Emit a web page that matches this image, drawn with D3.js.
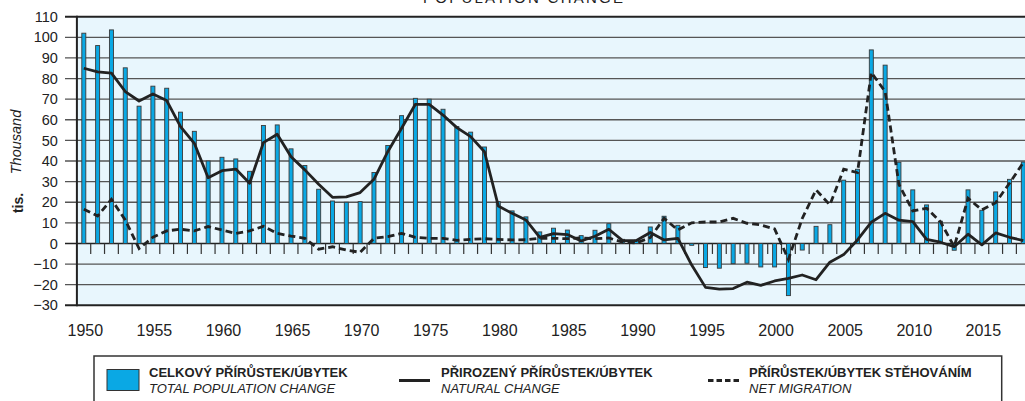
<!DOCTYPE html>
<html>
<head>
<meta charset="utf-8">
<script src="https://cdn.jsdelivr.net/npm/d3@7"></script>
<style>
  html, body { margin: 0; padding: 0; background: #fff; }
  svg { display: block; font-family: "Liberation Sans", Arial, sans-serif; }
</style>
</head>
<body>
<svg id="chart" width="1025" height="401"></svg>
<script>
// ---- data ----
const years = d3.range(1950, 2019);
const totalChange = [
  102.0, 96.0, 103.6, 85.2, 66.6, 76.3, 75.3, 63.7, 54.4, 40.0,
  41.8, 41.0, 35.0, 57.2, 57.5, 45.9, 37.8, 26.3, 20.6, 20.0,
  20.3, 34.4, 47.5, 62.0, 70.4, 70.0, 65.1, 56.7, 54.0, 46.8,
  20.3, 15.8, 12.9, 5.6, 7.4, 6.5, 3.8, 6.4, 9.6, 2.0,
  1.6, 8.0, 13.2, 8.8, -0.9, -11.7, -12.0, -9.8, -9.6, -11.4,
  -11.4, -25.3, -3.2, 8.3, 9.1, 30.7, 36.0, 93.9, 86.5, 39.4,
  26.0, 18.7, 10.8, -3.3, 26.0, 16.1, 25.0, 31.1, 39.5
];
const naturalChange = [
  85.0, 83.2, 82.6, 73.7, 69.1, 72.5, 69.3, 56.7, 48.6, 31.9,
  35.3, 36.1, 29.2, 48.9, 53.0, 42.1, 35.7, 28.7, 22.4, 22.6,
  24.7, 31.1, 44.5, 55.9, 67.5, 67.5, 62.3, 56.2, 51.8, 44.5,
  18.2, 14.6, 11.4, 3.0, 4.8, 4.3, 1.2, 3.5, 6.9, 1.4,
  1.4, 5.3, 1.7, 2.5, -10.5, -21.3, -22.2, -21.9, -18.8, -20.3,
  -18.2, -16.9, -15.3, -17.6, -9.1, -5.4, 1.7, 10.3, 14.6, 11.3,
  10.6, 2.0, 0.6, -1.6, 4.5, -0.7, 5.1, 3.0, 1.4
];
const netMigration = [
  16.6, 13.3, 21.4, 11.4, -2.5, 3.0, 6.1, 6.9, 6.1, 8.2,
  6.5, 4.9, 6.1, 8.3, 4.9, 3.6, 2.5, -2.8, -1.6, -3.2,
  -4.3, 2.5, 3.3, 4.9, 3.0, 2.5, 2.5, 1.5, 2.0, 2.3,
  2.0, 1.7, 1.8, 2.5, 2.5, 2.3, 2.7, 2.3, 2.7, 0.6,
  0.3, 2.8, 12.2, 6.5, 10.0, 10.4, 10.4, 12.2, 9.8, 9.0,
  7.0, -7.7, 12.1, 26.0, 18.7, 36.0, 34.4, 82.9, 73.7, 28.6,
  15.8, 17.1, 10.6, -1.6, 21.9, 16.3, 19.8, 29.2, 39.2
];
const yTicks = d3.range(-30, 111, 10);
const xTickYears = d3.range(1950, 2016, 5);
const titleText = "POPULATION CHANGE";
const legendItems = [
  { kind: "bar",  cz: "CELKOVÝ PŘÍRŮSTEK/ÚBYTEK", en: "TOTAL POPULATION CHANGE" },
  { kind: "line", cz: "PŘIROZENÝ PŘÍRŮSTEK/ÚBYTEK", en: "NATURAL CHANGE" },
  { kind: "dash", cz: "PŘÍRŮSTEK/ÚBYTEK STĚHOVÁNÍM", en: "NET MIGRATION" }
];

// ---- layout ----
const svg = d3.select("#chart");
const plotLeft = 76.9, plotTop = 16.7, plotBottom = 305.3, plotRight = 1030.2;
const x = d3.scaleLinear().domain([1949.5, 2018.5]).range([plotLeft, plotRight]);
const y = d3.scaleLinear().domain([-30, 110]).range([plotBottom, plotTop]);

const barFill = "#0aa8e4";
const lineColor = "#222";

// title (cut off at top)
svg.append("text")
  .attr("x", 523).attr("y", 3)
  .attr("text-anchor", "middle")
  .attr("font-size", 15)
  .attr("fill", "#222")
  .attr("textLength", 200)
  .text(titleText);

// plot background
svg.append("rect")
  .attr("x", plotLeft).attr("y", plotTop)
  .attr("width", 1025 - plotLeft).attr("height", plotBottom - plotTop)
  .attr("fill", "#e8f6fd");

// gridlines
svg.append("g").selectAll("line").data(yTicks).join("line")
  .attr("x1", 65).attr("x2", 1025)
  .attr("y1", d => y(d)).attr("y2", d => y(d))
  .attr("stroke", d => (d === 0 || d === 110 || d === -30) ? "#222" : "#555")
  .attr("stroke-width", d => (d === 110 || d === -30) ? 2 : (d === 0 ? 1.6 : 1.3));

// y axis labels
const yAxis = svg.append("g")
  .attr("transform", `translate(${plotLeft},0)`)
  .call(d3.axisLeft(y).tickValues(yTicks).tickSize(12).tickPadding(7).tickFormat(d3.format("d")));
yAxis.select(".domain").remove();
yAxis.selectAll(".tick line").remove();
yAxis.selectAll(".tick text")
  .attr("font-size", 14.5)
  .attr("font-family", "Liberation Sans, Arial, sans-serif")
  .attr("fill", "#222");

// left border
svg.append("line")
  .attr("x1", plotLeft).attr("x2", plotLeft)
  .attr("y1", plotTop - 1).attr("y2", plotBottom + 1)
  .attr("stroke", "#222").attr("stroke-width", 2);

// tick marks below zero at year boundaries
svg.append("g").selectAll("line").data(years.slice(0, -1)).join("line")
  .attr("x1", d => x(d + 0.5)).attr("x2", d => x(d + 0.5))
  .attr("y1", y(0)).attr("y2", y(0) + 10.5)
  .attr("stroke", "#333").attr("stroke-width", 1.2);

// bars
const barW = 4;
svg.append("g").selectAll("rect").data(years).join("rect")
  .attr("x", (d) => x(d) - barW / 2)
  .attr("y", (d, i) => y(Math.max(0, totalChange[i])))
  .attr("width", barW)
  .attr("height", (d, i) => Math.abs(y(totalChange[i]) - y(0)))
  .attr("fill", barFill)
  .attr("stroke", "#3a3a3a")
  .attr("stroke-width", 0.9);

// lines
const lineGen = arr => d3.line().x((d) => x(d)).y((d, i) => y(arr[i]))(years);
svg.append("path")
  .attr("d", lineGen(netMigration))
  .attr("fill", "none").attr("stroke", lineColor)
  .attr("stroke-width", 2.8).attr("stroke-dasharray", "7,4");
svg.append("path")
  .attr("d", lineGen(naturalChange))
  .attr("fill", "none").attr("stroke", lineColor)
  .attr("stroke-width", 2.8).attr("stroke-linejoin", "round");

// x axis labels
const xAxis = svg.append("g")
  .attr("transform", `translate(0,${plotBottom})`)
  .call(d3.axisBottom(x).tickValues(xTickYears).tickSize(0).tickFormat(d3.format("d")));
xAxis.select(".domain").remove();
xAxis.selectAll(".tick text")
  .attr("y", 31).attr("dy", 0)
  .attr("dx", 1)
  .attr("font-size", 16)
  .attr("font-family", "Liberation Sans, Arial, sans-serif")
  .attr("fill", "#222");

// axis titles
svg.append("text")
  .attr("transform", "translate(23,203) rotate(-90)")
  .attr("text-anchor", "middle")
  .attr("font-size", 14).attr("font-weight", "bold").attr("fill", "#222")
  .text("tis.");
svg.append("text")
  .attr("transform", "translate(21,142) rotate(-90)")
  .attr("text-anchor", "middle")
  .attr("font-size", 14.5).attr("font-style", "italic").attr("fill", "#222")
  .text("Thousand");

// legend
svg.append("rect")
  .attr("x", 94).attr("y", 356)
  .attr("width", 907.7).attr("height", 80)
  .attr("fill", "#fff").attr("stroke", "#333").attr("stroke-width", 1.5);

const legendX = [107, 399, 708];
const legendTextX = [149, 441, 749];
const lg = svg.append("g").selectAll("g").data(legendItems).join("g");
lg.each(function(d, i) {
  const g = d3.select(this);
  if (d.kind === "bar") {
    g.append("rect").attr("x", legendX[i]).attr("y", 369.5).attr("width", 32).attr("height", 21)
      .attr("fill", barFill).attr("stroke", "#333").attr("stroke-width", 1);
  } else {
    g.append("line").attr("x1", legendX[i]).attr("x2", legendX[i] + 31)
      .attr("y1", 380.5).attr("y2", 380.5)
      .attr("stroke", lineColor).attr("stroke-width", 3)
      .attr("stroke-dasharray", d.kind === "dash" ? "5.5,3" : null);
  }
  g.append("text").attr("x", legendTextX[i]).attr("y", 376.7)
    .attr("font-size", 13).attr("font-weight", "bold").attr("fill", "#222")
    .text(d.cz);
  g.append("text").attr("x", legendTextX[i]).attr("y", 393.3)
    .attr("font-size", 13).attr("font-style", "italic").attr("fill", "#222")
    .text(d.en);
});
</script>
</body>
</html>
